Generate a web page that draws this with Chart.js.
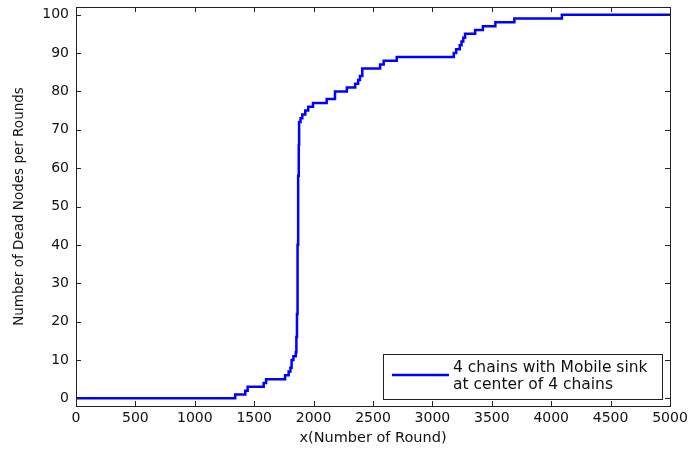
<!DOCTYPE html>
<html>
<head>
<meta charset="utf-8">
<script src="https://cdn.jsdelivr.net/npm/chart.js@4/dist/chart.umd.min.js"></script>
<style>
  html, body { margin: 0; padding: 0; background: #fff; }
  #wrap { width: 689px; height: 453px; }
</style>
</head>
<body>
<div id="wrap"><canvas id="deadChart" width="689" height="453"></canvas></div>
<script>
// round at which the count of dead nodes changes, and the new count
var rounds = [0, 1340, 1425, 1445, 1580, 1600, 1760, 1790, 1805, 1815, 1830, 1850, 1855, 1860, 1865, 1870, 1875, 1878,
  1890, 1905, 1930, 1955, 1995, 2110, 2180, 2280, 2350, 2375, 2390, 2410, 2560, 2590, 2700,
  3180, 3200, 3230, 3245, 3260, 3275, 3360, 3425, 3530, 3690, 4090, 5000];
var deadNodes = [0, 1, 2, 3, 4, 5, 6, 7, 8, 10, 11, 12, 16, 22, 40, 58, 66, 72,
  73, 74, 75, 76, 77, 78, 80, 81, 82, 83, 84, 86, 87, 88, 89,
  90, 91, 92, 93, 94, 95, 96, 97, 98, 99, 100, 100];
var xTicks = [0, 500, 1000, 1500, 2000, 2500, 3000, 3500, 4000, 4500, 5000];
var yTicks = [0, 10, 20, 30, 40, 50, 60, 70, 80, 90, 100];
var seriesLabel = ['4 chains with Mobile sink', 'at center of 4 chains'];

var FONT = 'DejaVu Sans';

// matlab style box, inward ticks and the legend box
var matlabAxes = {
  id: 'matlabAxes',
  afterDraw: function(chart) {
    var ctx = chart.ctx, a = chart.chartArea;
    var sx = chart.scales.x, sy = chart.scales.y;
    ctx.save();
    ctx.strokeStyle = '#222';
    ctx.lineWidth = 1;
    ctx.beginPath();
    sx.ticks.forEach(function(t) {
      var px = Math.round(sx.getPixelForValue(t.value)) + 0.5;
      ctx.moveTo(px, a.bottom); ctx.lineTo(px, a.bottom - 5);
      ctx.moveTo(px, a.top); ctx.lineTo(px, a.top + 5);
    });
    sy.ticks.forEach(function(t) {
      var py = Math.round(sy.getPixelForValue(t.value)) + 0.5;
      ctx.moveTo(a.left, py); ctx.lineTo(a.left + 5, py);
      ctx.moveTo(a.right, py); ctx.lineTo(a.right - 5, py);
    });
    ctx.stroke();
    ctx.strokeRect(Math.round(a.left) + 0.5, Math.round(a.top) + 0.5,
      Math.round(a.right - a.left), Math.round(a.bottom - a.top));

    // legend
    var lx = Math.round(a.right) - 287, ly = Math.round(a.bottom) - 52, lw = 279, lh = 45;
    ctx.fillStyle = '#fff';
    ctx.fillRect(lx, ly, lw, lh);
    ctx.strokeStyle = '#222';
    ctx.strokeRect(lx + 0.5, ly + 0.5, lw, lh);
    ctx.strokeStyle = '#0000ff';
    ctx.lineWidth = 2.5;
    ctx.beginPath();
    ctx.moveTo(lx + 9, ly + 21);
    ctx.lineTo(lx + 66, ly + 21);
    ctx.stroke();
    ctx.fillStyle = '#111';
    ctx.font = '15.5px "' + FONT + '"';
    ctx.textBaseline = 'middle';
    ctx.fillText(seriesLabel[0], lx + 70, ly + 14);
    ctx.fillText(seriesLabel[1], lx + 70, ly + 31);
    ctx.restore();
  }
};

var ctx = document.getElementById('deadChart').getContext('2d');
new Chart(ctx, {
  type: 'line',
  data: {
    datasets: [{
      label: seriesLabel.join(' '),
      data: rounds.map(function(r, i) { return {x: r, y: deadNodes[i]}; }),
      borderColor: '#0000ff',
      borderWidth: 2.5,
      stepped: true,
      pointRadius: 0,
      fill: false
    }]
  },
  options: {
    responsive: false,
    animation: false,
    layout: { padding: { top: 7, right: 19, left: 0, bottom: 0 } },
    plugins: { legend: { display: false }, tooltip: { enabled: false } },
    scales: {
      x: {
        type: 'linear',
        min: 0,
        max: 5000,
        afterBuildTicks: function(s) { s.ticks = xTicks.map(function(v) { return {value: v}; }); },
        afterFit: function(s) { s.height = 47; s.paddingLeft = 0; s.paddingRight = 0; },
        grid: { display: false, drawTicks: false },
        border: { display: false },
        ticks: { color: '#111', font: { family: FONT, size: 14 }, padding: 4, maxRotation: 0, autoSkip: false,
          callback: function(v) { return String(v); } },
        title: { display: true, text: 'x(Number of Round)', color: '#111', font: { family: FONT, size: 14.5 }, padding: { top: 0, bottom: 6 } }
      },
      y: {
        min: -2,
        max: 102,
        afterBuildTicks: function(s) { s.ticks = yTicks.map(function(v) { return {value: v}; }); },
        afterFit: function(s) { s.width = 76; s.paddingTop = 0; s.paddingBottom = 0; },
        grid: { display: false, drawTicks: false },
        border: { display: false },
        ticks: { color: '#111', font: { family: FONT, size: 14 }, padding: 7,
          callback: function(v) { return String(v); } },
        title: { display: true, text: 'Number of Dead Nodes per Rounds', color: '#111', font: { family: FONT, size: 13.5 }, padding: { top: 11, bottom: 0 } }
      }
    }
  },
  plugins: [matlabAxes]
});
</script>
</body>
</html>
